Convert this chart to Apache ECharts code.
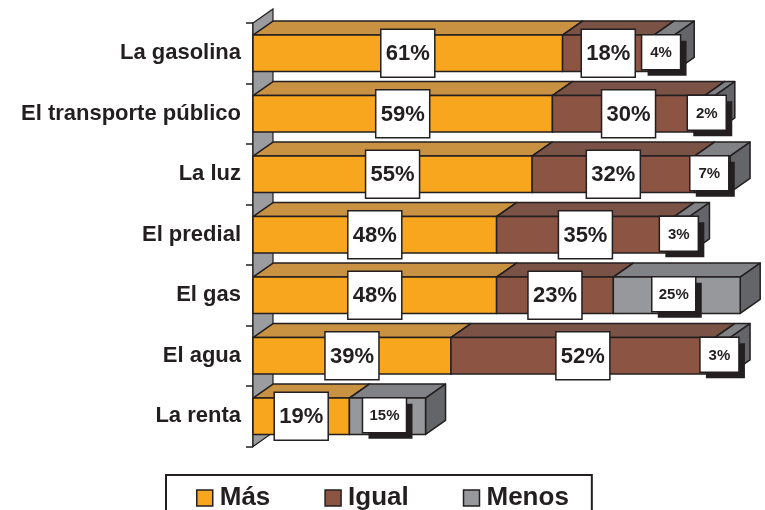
<!DOCTYPE html>
<html>
<head>
<meta charset="utf-8">
<script src="https://cdn.jsdelivr.net/npm/echarts@6/dist/echarts.min.js"></script>
<style>
html,body{margin:0;padding:0;background:#fff;}
#chart{width:765px;height:510px;}
</style>
</head>
<body>
<div id="chart"></div>
<script>
const categories = ['La gasolina', 'El transporte público', 'La luz', 'El predial', 'El gas', 'El agua', 'La renta'];
const seriesNames = ['Más', 'Igual', 'Menos'];
const mas = [61, 59, 55, 48, 48, 39, 19];
const igual = [18, 30, 32, 35, 23, 52, 0];
const menos = [4, 2, 7, 3, 25, 3, 15];

const INK = '#231f20';
const DX = 20, DY = -14;
const palette = [
  {front: '#f7a61e', top: '#c89242', side: '#b07a1a'},
  {front: '#8c5442', top: '#7a5246', side: '#5c3a2e'},
  {front: '#97989b', top: '#818285', side: '#646568'}
];
const FONT = '"Liberation Sans", Arial, sans-serif';

function buildData(values, offsets) {
  return values.map(function (v, i) {
    const s = offsets ? offsets[i] : 0;
    return [s, s + v, i, v];
  });
}
const masData = buildData(mas, null);
const igualData = buildData(igual, mas);
const menosData = buildData(menos, mas.map(function (m, i) { return m + igual[i]; }));

function makeRender(k, small) {
  const c = palette[k];
  return function (params, api) {
    const s = api.value(0), e = api.value(1), ci = api.value(2), v = api.value(3);
    if (!v) return null;
    const p0 = api.coord([s, ci]);
    const p1 = api.coord([e, ci]);
    const bh = api.size([0, 1])[1] * 0.6;
    const x0 = p0[0], x1 = p1[0], yc = p0[1];
    const y0 = yc - bh / 2, y1 = yc + bh / 2;
    const ls = {stroke: INK, lineWidth: 1.5, lineJoin: 'round'};
    const zb = k + 1;
    const children = [
      {type: 'polygon', z2: zb, shape: {points: [[x0, y0], [x0 + DX, y0 + DY], [x1 + DX, y0 + DY], [x1, y0]]},
        style: Object.assign({fill: c.top}, ls)},
      {type: 'polygon', z2: zb, shape: {points: [[x1, y0], [x1 + DX, y0 + DY], [x1 + DX, y1 + DY], [x1, y1]]},
        style: Object.assign({fill: c.side}, ls)},
      {type: 'rect', z2: zb, shape: {x: x0, y: y0, width: x1 - x0, height: bh},
        style: Object.assign({fill: c.front}, ls)}
    ];
    const cx = (x0 + x1) / 2;
    if (!small) {
      const w = 54, h = 48;
      children.push({type: 'rect', z2: 100, shape: {x: cx - w / 2, y: yc - h / 2, width: w, height: h},
        style: {fill: '#fff', stroke: INK, lineWidth: 1.5}});
      children.push({type: 'text', z2: 101, style: {text: v + '%', x: cx, y: yc + 1, align: 'center', verticalAlign: 'middle',
        font: 'bold 22px ' + FONT, fill: INK}});
    } else {
      const w = v >= 10 ? 44 : 39, h = 35;
      const lx = cx - 3, ly = yc - 1;
      children.push({type: 'rect', z2: 100, shape: {x: lx - w / 2 + 6, y: ly - h / 2 + 6, width: w, height: h},
        style: {fill: INK}});
      children.push({type: 'rect', z2: 101, shape: {x: lx - w / 2, y: ly - h / 2, width: w, height: h},
        style: {fill: '#fff', stroke: INK, lineWidth: 1.5}});
      children.push({type: 'text', z2: 102, style: {text: v + '%', x: lx, y: ly + 1, align: 'center', verticalAlign: 'middle',
        font: 'bold 15px ' + FONT, fill: INK}});
    }
    return {type: 'group', children: children};
  };
}

function wallRender(params, api) {
  const cs = params.coordSys;
  const x = cs.x, y = cs.y, h = cs.height;
  return {
    type: 'polygon',
    shape: {points: [[x, y], [x + DX, y + DY], [x + DX, y + h + DY], [x, y + h]]},
    style: {fill: '#9b9ca0', stroke: INK, lineWidth: 1.2}
  };
}

const chart = echarts.init(document.getElementById('chart'), null, {renderer: 'canvas'});
chart.setOption({
  backgroundColor: '#ffffff',
  animation: false,
  grid: {left: 253, top: 23, width: 507.5, height: 423.5},
  xAxis: {type: 'value', min: 0, max: 100, show: false},
  yAxis: {
    type: 'category', inverse: true, data: categories,
    axisLine: {show: true, lineStyle: {color: INK, width: 1.5}},
    axisTick: {show: true, length: 7, lineStyle: {color: INK, width: 1.5}},
    axisLabel: {fontSize: 22, fontWeight: 'bold', fontFamily: FONT, color: INK, margin: 12},
    splitLine: {show: false}
  },
  legend: {
    left: 166, top: 475,
    padding: [10, 23, 30, 30],
    itemGap: 54, itemWidth: 16, itemHeight: 16,
    borderColor: INK, borderWidth: 2,
    selectedMode: false,
    textStyle: {fontSize: 26, fontWeight: 'bold', fontFamily: FONT, color: INK, padding: [0, 0, 0, 2]},
    data: seriesNames.map(function (n, k) {
      return {name: n, icon: 'rect', itemStyle: {color: palette[k].front, borderColor: INK, borderWidth: 1.5}};
    })
  },
  series: [
    {type: 'custom', name: 'wall', z: 1, renderItem: wallRender, data: [[0, 0]], encode: {x: 0, y: 1}, silent: true},
    {type: 'custom', name: seriesNames[0], z: 2, renderItem: makeRender(0, false), data: masData, encode: {x: [0, 1], y: 2},
      itemStyle: {color: palette[0].front}},
    {type: 'custom', name: seriesNames[1], z: 2, renderItem: makeRender(1, false), data: igualData, encode: {x: [0, 1], y: 2},
      itemStyle: {color: palette[1].front}},
    {type: 'custom', name: seriesNames[2], z: 2, renderItem: makeRender(2, true), data: menosData, encode: {x: [0, 1], y: 2},
      itemStyle: {color: palette[2].front}}
  ]
});
</script>
</body>
</html>
